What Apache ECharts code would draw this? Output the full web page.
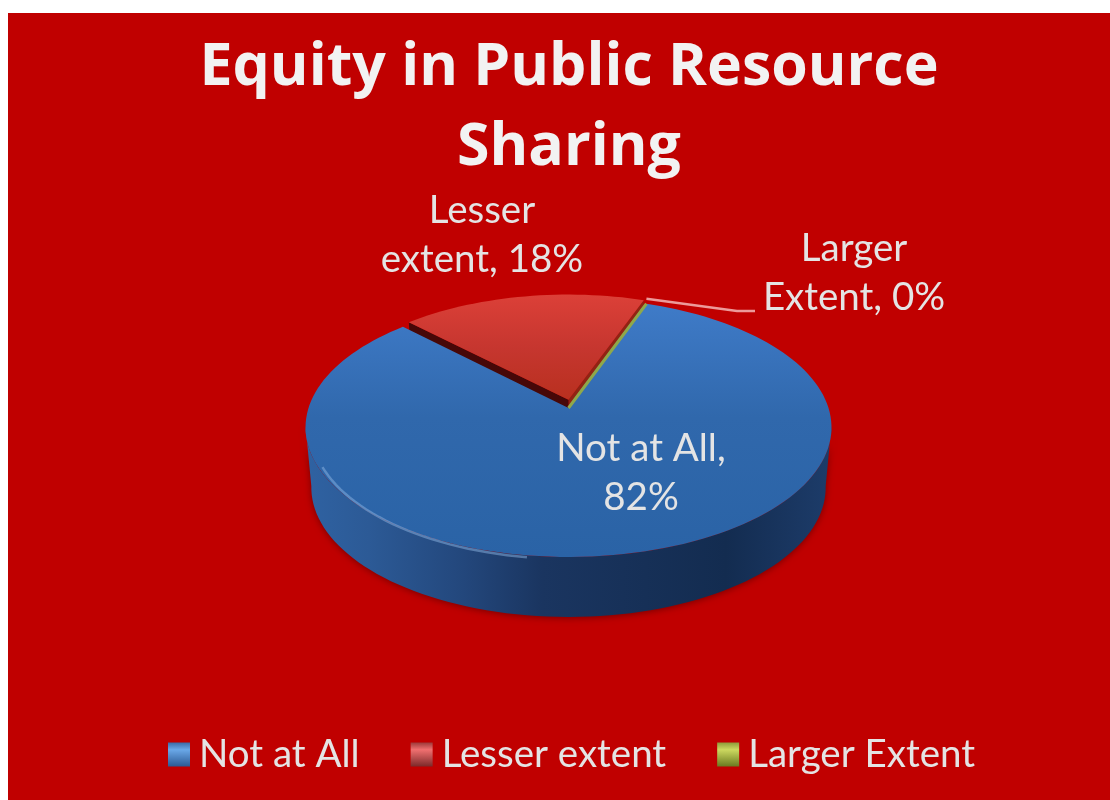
<!DOCTYPE html>
<html>
<head>
<meta charset="utf-8">
<title>Equity in Public Resource Sharing</title>
<style>
html,body{margin:0;padding:0;background:#fff;}
#bg{position:absolute;left:8px;top:13px;width:1102px;height:787px;background:#c00000;}
#main{position:absolute;left:0;top:0;width:1110px;height:800px;}
</style>
<script src="https://cdn.jsdelivr.net/npm/echarts@6/dist/echarts.min.js"></script>
</head>
<body>
<div id="bg"></div>
<div id="main"></div>
<script>
var categories = ['Not at All', 'Lesser extent', 'Larger Extent']
var values = [82, 18, 0]
var titleText = 'Equity in Public Resource\nSharing'
var labelLines = [['Not at All,', '82%'], ['Lesser', 'extent, 18%'], ['Larger', 'Extent, 0%']]

var chart = echarts.init(document.getElementById('main'))

// the tilted disc: a circle seen in perspective
var cx = 568.5, cy = 408, R = 260, A = 126.6, k = 0.15, depth = 60
var firstAngle = 20
var explode = [0, 0.065, 0]
var radius = [1, 0.97, 1]
var labelPos = [[641, 473], [482, 235], [854, 273]]

function grad(x0, y0, x1, y1, stops){
	return new echarts.graphic.LinearGradient(x0, y0, x1, y1, stops.map(function(s){
		return {offset: s[0], color: s[1]}
	}))
}

var topFill = [
	grad(0, 0, 0, 1, [[0, '#3f7bc8'], [0.45, '#3068ac'], [1, '#2a63a6']]),
	grad(0, 0, 0, 1, [[0, '#dc4038'], [0.5, '#c6362f'], [1, '#b8301f']]),
	grad(0, 0, 0, 1, [[0, '#a8c050'], [1, '#7f9a3a']])
]
var wallFill = grad(0, 0, 1, 0, [[0, '#2f62a2'], [0.12, '#2c5a96'], [0.3, '#23477c'], [0.45, '#1a3560'], [0.8, '#132c50'], [1, '#1d3c6a']])
var legendFill = [
	grad(0, 0, 0, 1, [[0, '#3a6aa8'], [0.3, '#6aa8e8'], [1, '#2c5a94']]),
	grad(0, 0, 0, 1, [[0, '#9c3a3a'], [0.3, '#f07070'], [1, '#7c2a2a']]),
	grad(0, 0, 0, 1, [[0, '#8f9a3a'], [0.3, '#ccd860'], [1, '#6a7a20']])
]

function project(deg, r, offV, drop){
	var t = deg * Math.PI / 180
	var u = r * Math.sin(t)
	var v = r * Math.cos(t) + offV
	var w = 1 + k * v
	var shrink = drop ? 0.978 : 1
	return [cx + R * shrink * u / w, cy - A * v / w + (drop || 0)]
}

function arcPoints(a0, a1, r, offV, drop){
	var pts = []
	var n = Math.max(1, Math.ceil((a1 - a0) / 2))
	for(var i = 0; i <= n; i++){
		pts.push(project(a0 + (a1 - a0) * i / n, r, offV, drop))
	}
	return pts
}

function renderSlice(params, api){
	var idx = params.seriesIndex
	var total = values.reduce(function(a, b){ return a + b }, 0)
	var before = 0
	for(var i = 0; i < idx; i++) before += values[i]
	var a0 = firstAngle + before / total * 360
	var a1 = a0 + api.value(0) / total * 360
	var offV = explode[idx]
	var r = radius[idx]
	var apex = project(0, 0, offV)
	var children = []

	// outer wall, only the part of the rim that faces us
	var w0 = Math.max(a0, 98), w1 = Math.min(a1, 262)
	if(w1 > w0){
		var rimTop = arcPoints(w0, w1, r, offV)
		var rimLow = arcPoints(w0, w1, r, offV, depth).reverse()
		children.push({
			type: 'polygon',
			shape: {points: rimTop.concat(rimLow)},
			style: {fill: wallFill, shadowColor: 'rgba(60,0,0,0.55)', shadowBlur: 7, shadowOffsetY: 1}
		})
	}
	// cut faces of a pulled-out slice
	if(offV > 0){
		children.push({
			type: 'polygon',
			shape: {points: [apex, project(a1, r, offV), project(a1, r, offV, depth), project(0, 0, offV, depth)]},
			style: {fill: '#8f2414'}
		})
		children.push({
			type: 'polygon',
			shape: {points: [apex, project(a0, r, offV), project(a0, r, offV, depth), project(0, 0, offV, depth)]},
			style: {fill: '#470808'}
		})
	}
	// top face
	var face = [apex].concat(arcPoints(a0, a1, r, offV))
	children.push({
		type: 'polygon',
		shape: {points: face},
		style: a1 > a0 ? {fill: topFill[idx]} : {fill: 'none', stroke: '#8fa84a', lineWidth: 3}
	})
	// pale bevel on the lower left of the rim
	if(w1 > w0 && idx === 0){
		children.push({
			type: 'polyline',
			shape: {points: arcPoints(188, 245, 1, 0, 2)},
			style: {fill: 'none', stroke: 'rgba(140,180,225,0.5)', lineWidth: 2.5}
		})
	}
	// leader line for the empty slice
	if(a1 === a0){
		var rim = project(a0, 1, 0)
		children.push({
			type: 'polyline',
			shape: {points: [[rim[0], rim[1] - 5], [737, 311], [755, 311]]},
			style: {fill: 'none', stroke: '#ec9a9a', lineWidth: 2.5}
		})
	}
	children.push({
		type: 'text',
		x: labelPos[idx][0],
		y: labelPos[idx][1],
		style: {
			text: labelLines[idx].join('\n'),
			fill: '#e4e4e4',
			fontFamily: 'Lato',
			fontSize: 38.5,
			lineHeight: 49,
			align: 'center',
			verticalAlign: 'middle'
		}
	})
	return {type: 'group', children: children}
}

var zOrder = [2, 1, 3]
var seriesList = categories.map(function(name, i){
	return {
		name: name,
		type: 'custom',
		coordinateSystem: 'none',
		z: zOrder[i],
		itemStyle: {color: legendFill[i]},
		renderItem: renderSlice,
		data: [[values[i]]]
	}
})

var option = {
	animation: false,
	backgroundColor: 'transparent',
	title: {
		text: titleText,
		left: 564,
		top: 23,
		textAlign: 'center',
		textStyle: {
			color: '#f2f2f2',
			fontFamily: 'Open Sans',
			fontWeight: 'bold',
			fontSize: 59,
			lineHeight: 80
		}
	},
	legend: {
		left: 163,
		top: 730,
		icon: 'rect',
		itemWidth: 22,
		itemHeight: 24,
		itemGap: 51,
		data: categories,
		textStyle: {color: '#e4e4e4', fontFamily: 'Lato', fontSize: 38.5, padding: [0, 0, 0, 4]}
	},
	series: seriesList
}

chart.setOption(option)
</script>
</body>
</html>
